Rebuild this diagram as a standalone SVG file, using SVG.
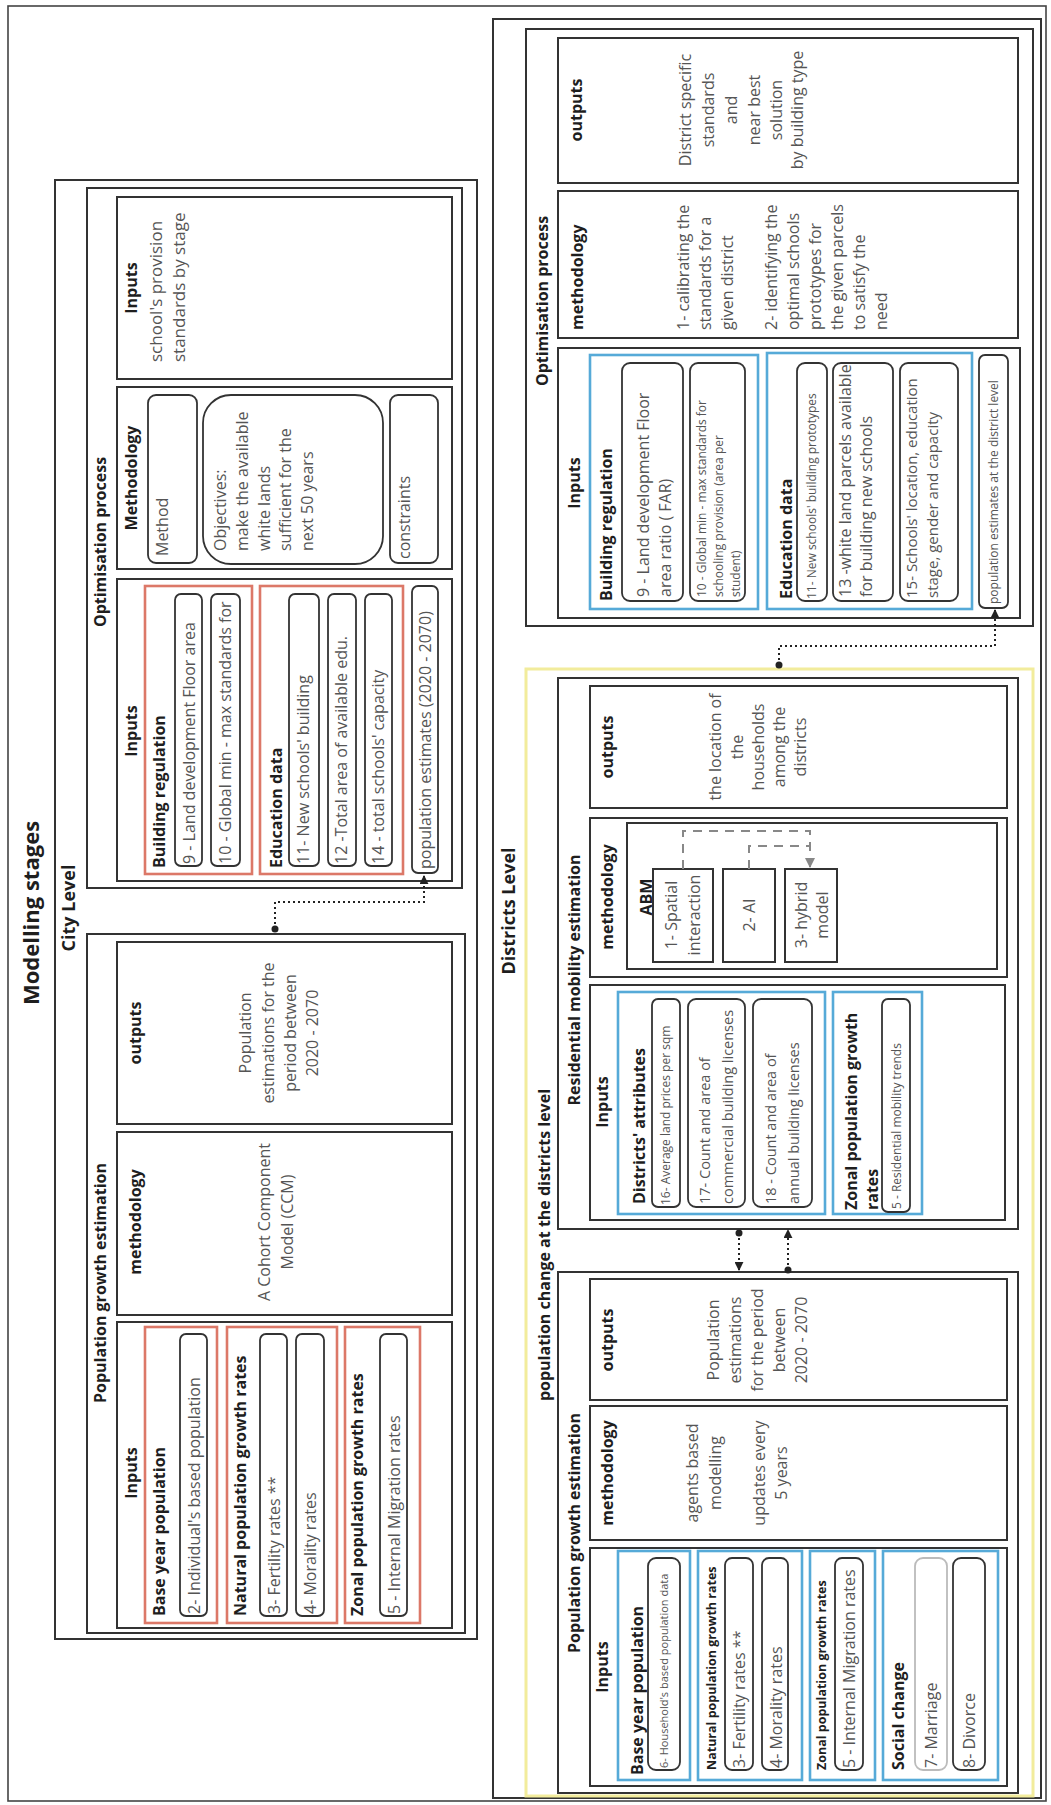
<svg xmlns="http://www.w3.org/2000/svg" width="1051" height="1805" viewBox="0 0 1051 1805">
<defs>
<style>
.box{fill:none;stroke:#333;stroke-width:2}
.frame{fill:none;stroke:#444;stroke-width:1.6}
.red{fill:none;stroke:#dc7868;stroke-width:2.6}
.blue{fill:none;stroke:#56aad8;stroke-width:2.6}
.yel{fill:none;stroke:#f2ec9c;stroke-width:3}
.item{fill:#fff;stroke:#333;stroke-width:1.8}
.item-light{fill:#fff;stroke:#bbb;stroke-width:1.8}
.h{font-family:"Open Sans","Liberation Sans",sans-serif;font-weight:700;fill:#1e1e1e;font-size:16px}
.t{font-family:"Open Sans","Liberation Sans",sans-serif;fill:#555;font-size:16px}
.mid{text-anchor:middle}
.s11{font-size:11px}
.s12{font-size:12px}
.s125{font-size:12.5px}
.s145{font-size:14.5px}
.s15{font-size:15px}
.s17{font-size:17px}
.s18{font-size:18px}
.s22{font-size:22px}
.dot{fill:none;stroke:#222;stroke-width:2;stroke-dasharray:2 3}
.dash{fill:none;stroke:#888;stroke-width:2;stroke-dasharray:9 7}
</style>
<marker id="arr" viewBox="0 0 10 10" refX="9" refY="5" markerUnits="userSpaceOnUse" markerWidth="9" markerHeight="9" orient="auto"><path d="M0,0 L10,5 L0,10 z" fill="#222"/></marker>
<marker id="arrg" viewBox="0 0 10 10" refX="9" refY="5" markerUnits="userSpaceOnUse" markerWidth="10" markerHeight="10" orient="auto"><path d="M0,0 L10,5 L0,10 z" fill="#888"/></marker>
</defs>
<rect width="1051" height="1805" fill="#fff"/>
<!-- the whole sheet is laid out landscape and turned a quarter turn -->
<g transform="translate(0 1805) rotate(-90)">
<rect class="frame" x="4" y="8" width="1795" height="1038"/>
<text class="h mid s22" x="892" y="39">Modelling stages</text>

<!-- ================= City level ================= -->
<g id="city-level">
<rect class="box" x="166" y="55" width="1459" height="422" stroke-width="2.4"/>
<text class="h mid s18" x="897" y="75">City Level</text>
</g>

<g id="city-optimisation">
<rect class="box" x="917" y="87" width="700" height="375"/>
<text class="h mid" x="1263" y="106">Optimisation process</text>

<g id="city-opt-standards">
<rect class="box" x="1426" y="117" width="182" height="335"/>
<text class="h mid" x="1517" y="137">Inputs</text>
<text class="t s17" x="1443" y="162">school's provision</text>
<text class="t s17" x="1443" y="185">standards by stage</text>
</g>

<g id="city-opt-methodology">
<rect class="box" x="1236" y="117" width="182" height="335"/>
<text class="h mid" x="1327" y="137">Methodology</text>
<rect class="item" x="1242" y="148" width="168" height="49" rx="8"/>
<text class="t" x="1249" y="168">Method</text>
<rect class="item" x="1241" y="203" width="169" height="180" rx="28"/>
<text class="t" x="1254" y="226">Objectives:</text>
<text class="t" x="1254" y="248">make the available</text>
<text class="t" x="1254" y="270">white lands</text>
<text class="t" x="1254" y="291">sufficient for the</text>
<text class="t" x="1254" y="313">next 50 years</text>
<rect class="item" x="1242" y="390" width="168" height="48" rx="8"/>
<text class="t" x="1246" y="410">constraints</text>
</g>

<g id="city-opt-inputs">
<rect class="box" x="924" y="117" width="302" height="335"/>
<text class="h mid" x="1074" y="137">Inputs</text>
<rect class="red" x="931" y="145" width="288" height="107"/>
<text class="h" x="937" y="165">Building regulation</text>
<rect class="item" x="939" y="175" width="272" height="27" rx="6"/>
<text class="t" x="941" y="195">9 - Land development Floor area</text>
<rect class="item" x="939" y="211" width="272" height="29" rx="6"/>
<text class="t" x="941" y="231">10 - Global min - max standards for</text>
<rect class="red" x="931" y="260" width="288" height="143"/>
<text class="h" x="937" y="282">Education data</text>
<rect class="item" x="939" y="289" width="272" height="30" rx="6"/>
<text class="t" x="941" y="309">11- New schools' building</text>
<rect class="item" x="939" y="328" width="272" height="28" rx="6"/>
<text class="t" x="941" y="347">12 -Total area of available edu.</text>
<rect class="item" x="939" y="365" width="272" height="27" rx="6"/>
<text class="t" x="941" y="384">14 - total schools' capacity</text>
<rect class="item" x="932" y="412" width="287" height="26" rx="6"/>
<text class="t" x="936" y="431">population estimates (2020 - 2070)</text>
</g>
</g>

<g id="city-population">
<rect class="box" x="172" y="87" width="699" height="378"/>
<text class="h mid" x="522" y="106">Population growth estimation</text>

<g id="city-pop-outputs">
<rect class="box" x="681" y="117" width="182" height="335"/>
<text class="h mid" x="772" y="141">outputs</text>
<text class="t mid" x="772" y="251">Population</text>
<text class="t mid" x="772" y="274">estimations for the</text>
<text class="t mid" x="772" y="296">period between</text>
<text class="t mid" x="772" y="318">2020 - 2070</text>
</g>

<g id="city-pop-methodology">
<rect class="box" x="490" y="117" width="183" height="335"/>
<text class="h mid" x="583" y="141">methodology</text>
<text class="t mid" x="583" y="270">A Cohort Component</text>
<text class="t mid" x="583" y="293">Model (CCM)</text>
</g>

<g id="city-pop-inputs">
<rect class="box" x="177" y="117" width="306" height="335"/>
<text class="h mid" x="332" y="137">Inputs</text>
<rect class="red" x="182" y="145" width="296" height="72"/>
<text class="h" x="189" y="165">Base year population</text>
<rect class="item" x="189" y="180" width="282" height="27" rx="6"/>
<text class="t" x="191" y="200">2- Individual's based population</text>
<rect class="red" x="182" y="227" width="296" height="110"/>
<text class="h" x="189" y="246">Natural population growth rates</text>
<rect class="item" x="189" y="260" width="282" height="27" rx="6"/>
<text class="t" x="191" y="280">3- Fertility rates **</text>
<rect class="item" x="189" y="296" width="282" height="28" rx="6"/>
<text class="t" x="191" y="316">4- Morality rates</text>
<rect class="red" x="182" y="345" width="296" height="75"/>
<text class="h" x="189" y="363">Zonal population growth rates</text>
<rect class="item" x="189" y="380" width="282" height="27" rx="6"/>
<text class="t" x="191" y="400">5 - Internal Migration rates</text>
</g>
</g>

<!-- ================= Districts level ================= -->
<g id="districts-level">
<rect class="box" x="7" y="493" width="1779" height="548" stroke-width="2.4"/>
<text class="h mid s18" x="894" y="515">Districts Level</text>
</g>

<g id="district-optimisation">
<rect class="box" x="1179" y="526" width="597" height="507"/>
<text class="h mid" x="1504" y="548">Optimisation process</text>

<g id="district-opt-outputs">
<rect class="box" x="1622" y="558" width="145" height="460"/>
<text class="h mid" x="1695" y="582">outputs</text>
<text class="t mid" x="1695" y="691">District specific</text>
<text class="t mid" x="1695" y="714">standards</text>
<text class="t mid" x="1695" y="737">and</text>
<text class="t mid" x="1695" y="760">near best</text>
<text class="t mid" x="1695" y="782">solution</text>
<text class="t mid" x="1695" y="803">by building type</text>
</g>

<g id="district-opt-methodology">
<rect class="box" x="1467" y="558" width="147" height="460"/>
<text class="h" x="1475" y="583">methodology</text>
<text class="t" x="1475" y="689">1- calibrating the</text>
<text class="t" x="1475" y="711">standards for a</text>
<text class="t" x="1475" y="733">given district</text>
<text class="t" x="1475" y="777">2- identifying the</text>
<text class="t" x="1475" y="799">optimal schools</text>
<text class="t" x="1475" y="821">prototypes for</text>
<text class="t" x="1475" y="843">the given parcels</text>
<text class="t" x="1475" y="865">to satisfy the</text>
<text class="t" x="1475" y="887">need</text>
</g>

<g id="district-opt-inputs">
<rect class="box" x="1187" y="558" width="270" height="462"/>
<text class="h mid" x="1322" y="580">Inputs</text>
<rect class="blue" x="1196" y="590" width="254" height="168"/>
<text class="h" x="1204" y="612">Building regulation</text>
<rect class="item" x="1204" y="622" width="238" height="61" rx="8"/>
<text class="t" x="1208" y="649">9 - Land development Floor</text>
<text class="t" x="1208" y="671">area ratio ( FAR)</text>
<rect class="item" x="1204" y="690" width="238" height="55" rx="8"/>
<text class="t s12" x="1208" y="706">10 - Global min - max standards for</text>
<text class="t s12" x="1208" y="723">schooling provision (area per</text>
<text class="t s12" x="1208" y="740">student)</text>
<rect class="blue" x="1196" y="767" width="256" height="205"/>
<text class="h" x="1206" y="792">Education data</text>
<rect class="item" x="1204" y="797" width="238" height="30" rx="8"/>
<text class="t s12" x="1206" y="816">11- New schools' building prototypes</text>
<rect class="item" x="1204" y="833" width="238" height="60" rx="8"/>
<text class="t" x="1208" y="851">13 -white land parcels available</text>
<text class="t" x="1208" y="872">for building new schools</text>
<rect class="item" x="1204" y="900" width="238" height="58" rx="8"/>
<text class="t s15" x="1207" y="917">15- Schools' location, education</text>
<text class="t s15" x="1207" y="938">stage, gender and capacity</text>
<rect class="item" x="1197" y="979" width="253" height="29" rx="6"/>
<text class="t s12" x="1201" y="998">population estimates at the district level</text>
</g>
</g>

<g id="district-population-change">
<rect class="yel" x="9" y="526" width="1127" height="507"/>
<text class="h mid" x="560" y="550">population change at the districts level</text>
</g>

<g id="residential-mobility">
<rect class="box" x="576" y="558" width="551" height="460"/>
<text class="h mid" x="825" y="580">Residential mobility estimation</text>

<g id="res-outputs">
<rect class="box" x="997" y="590" width="122" height="417"/>
<text class="h mid" x="1058" y="613">outputs</text>
<text class="t mid" x="1058" y="721">the location of</text>
<text class="t mid" x="1058" y="743">the</text>
<text class="t mid" x="1058" y="764">households</text>
<text class="t mid" x="1058" y="785">among the</text>
<text class="t mid" x="1058" y="806">districts</text>
</g>

<g id="res-methodology">
<rect class="box" x="828" y="590" width="159" height="417"/>
<text class="h mid" x="908" y="613">methodology</text>
<rect class="box" x="836" y="627" width="146" height="370"/>
<text class="h mid" x="908" y="652">ABM</text>
<g id="abm-spatial">
<rect class="box" x="843" y="653" width="93" height="60" stroke-width="1.8"/>
<text class="t mid" x="890" y="677">1- Spatial</text>
<text class="t mid" x="890" y="700">interaction</text>
</g>
<g id="abm-ai">
<rect class="box" x="843" y="723" width="93" height="52" stroke-width="1.8"/>
<text class="t mid" x="890" y="755">2- AI</text>
</g>
<g id="abm-hybrid">
<rect class="box" x="843" y="785" width="93" height="52" stroke-width="1.8"/>
<text class="t mid" x="890" y="807">3- hybrid</text>
<text class="t mid" x="890" y="828">model</text>
</g>
</g>

<g id="res-inputs">
<rect class="box" x="585" y="590" width="235" height="415"/>
<text class="h mid" x="703" y="608">Inputs</text>
<rect class="blue" x="591" y="618" width="222" height="207"/>
<text class="h" x="601" y="645">Districts' attributes</text>
<rect class="item" x="598" y="652" width="208" height="28" rx="6"/>
<text class="t s12" x="600" y="670">16- Average land prices per sqm</text>
<rect class="item" x="598" y="688" width="208" height="57" rx="8"/>
<text class="t s145" x="601" y="710">17- Count and area of</text>
<text class="t s145" x="601" y="733">commercial building licenses</text>
<rect class="item" x="598" y="753" width="208" height="59" rx="8"/>
<text class="t s145" x="601" y="776">18 - Count and area of</text>
<text class="t s145" x="601" y="799">annual building licenses</text>
<rect class="blue" x="591" y="833" width="222" height="89"/>
<text class="h" x="595" y="857">Zonal population growth</text>
<text class="h" x="595" y="878">rates</text>
<rect class="item" x="593" y="882" width="213" height="28" rx="6"/>
<text class="t s12" x="596" y="901">5 - Residential mobility trends</text>
</g>
</g>

<g id="district-population">
<rect class="box" x="12" y="558" width="521" height="460"/>
<text class="h mid" x="272" y="580">Population growth estimation</text>

<g id="dist-pop-outputs">
<rect class="box" x="405" y="590" width="121" height="417"/>
<text class="h mid" x="465" y="613">outputs</text>
<text class="t mid" x="465" y="719">Population</text>
<text class="t mid" x="465" y="741">estimations</text>
<text class="t mid" x="465" y="763">for the period</text>
<text class="t mid" x="465" y="785">between</text>
<text class="t mid" x="465" y="807">2020 - 2070</text>
</g>

<g id="dist-pop-methodology">
<rect class="box" x="265" y="590" width="134" height="417"/>
<text class="h mid" x="332" y="613">methodology</text>
<text class="t mid" x="332" y="698">agents based</text>
<text class="t mid" x="332" y="721">modelling</text>
<text class="t mid" x="332" y="765">updates every</text>
<text class="t mid" x="332" y="787">5 years</text>
</g>

<g id="dist-pop-inputs">
<rect class="box" x="19" y="590" width="238" height="417"/>
<text class="h mid" x="138" y="608">Inputs</text>
<rect class="blue" x="25" y="618" width="229" height="72"/>
<text class="h" x="30" y="643">Base year population</text>
<rect class="item" x="35" y="648" width="212" height="32" rx="8"/>
<text class="t s11" x="37" y="668">6- Household's based population data</text>
<rect class="blue" x="25" y="698" width="229" height="104"/>
<text class="h s125" x="35" y="716">Natural population growth rates</text>
<rect class="item" x="35" y="725" width="212" height="28" rx="7"/>
<text class="t" x="37" y="745">3- Fertility rates **</text>
<rect class="item" x="35" y="762" width="212" height="26" rx="7"/>
<text class="t" x="37" y="782">4- Morality rates</text>
<rect class="blue" x="25" y="810" width="229" height="65"/>
<text class="h s125" x="35" y="826">Zonal population growth rates</text>
<rect class="item" x="35" y="835" width="212" height="28" rx="7"/>
<text class="t" x="37" y="855">5 - Internal Migration rates</text>
<rect class="blue" x="25" y="883" width="229" height="115"/>
<text class="h" x="35" y="904">Social change</text>
<rect class="item-light" x="35" y="915" width="212" height="32" rx="8"/>
<text class="t" x="37" y="937">7- Marriage</text>
<rect class="item" x="35" y="953" width="212" height="32" rx="8"/>
<text class="t" x="37" y="975">8- Divorce</text>
</g>
</g>

<!-- ================= Connectors ================= -->
<g id="connectors">
<path class="dot" d="M876 275 H903 V424 H929" marker-end="url(#arr)"/>
<circle cx="876" cy="275" r="3.5" fill="#222"/>
<path class="dot" d="M1140 779 H1159 V995 H1195" marker-end="url(#arr)"/>
<circle cx="1140" cy="779" r="3.5" fill="#222"/>
<path class="dot" d="M572 739 H535" marker-end="url(#arr)"/>
<circle cx="572" cy="739" r="3.5" fill="#222"/>
<path class="dot" d="M535 788 H575" marker-end="url(#arr)"/>
<circle cx="535" cy="788" r="3.5" fill="#222"/>
<path class="dash" d="M936 683 H974 V810 H938" marker-end="url(#arrg)"/>
<path class="dash" d="M936 749 H959 V810"/>
</g>
</g>
</svg>
